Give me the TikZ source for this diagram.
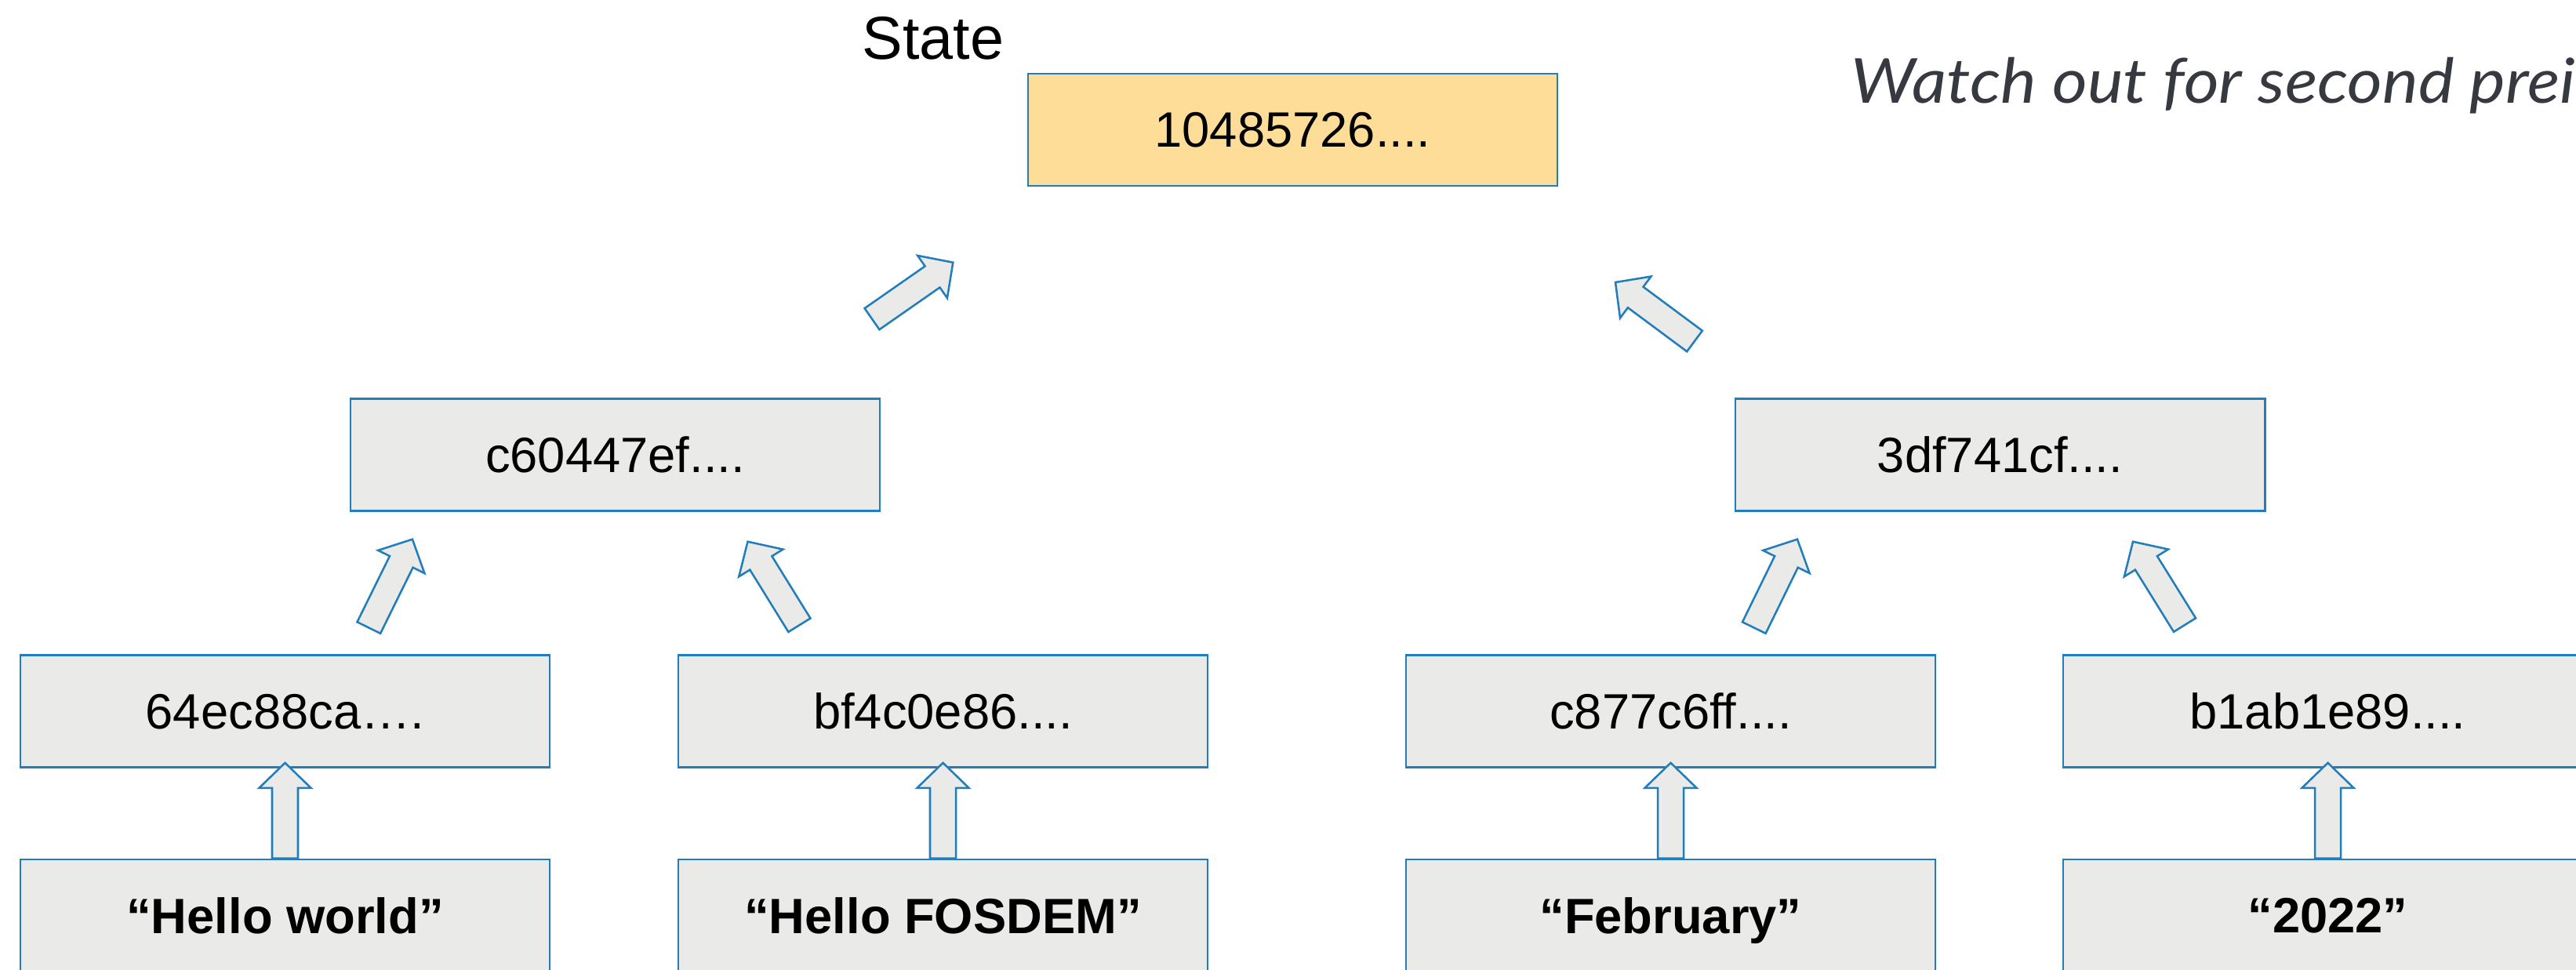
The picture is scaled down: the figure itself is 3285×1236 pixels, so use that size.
\documentclass[tikz,border=0pt]{standalone}
\usepackage{fontspec}
\setmainfont{Liberation Sans}
\newfontfamily\notefont[FakeStretch=1.09]{Lato}
\usetikzlibrary{calc}

\definecolor{boxfill}{RGB}{234,234,232}
\definecolor{boxline}{RGB}{33,125,187}
\definecolor{statefill}{RGB}{254,221,152}
\definecolor{notegray}{RGB}{54,58,64}

% block arrow from tail centre #1 to tip #2
\newcommand\blockarrow[2]{%
  \coordinate (hb) at ($(#2)!0.32cm!(#1)$);
  \draw[arrowbody]
    ($(#1)!0.165cm!90:(#2)$) -- ($(hb)!0.165cm!90:(#2)$) --
    ($(hb)!0.33cm!90:(#2)$) -- (#2) --
    ($(hb)!0.33cm!-90:(#2)$) -- ($(hb)!0.165cm!-90:(#2)$) --
    ($(#1)!0.165cm!-90:(#2)$) -- cycle;
}

\begin{document}
\begin{tikzpicture}[x=0.01cm, y=-0.01cm,
  hashbox/.style={draw=boxline, fill=boxfill, line width=0.72pt,
    minimum width=6.75cm, minimum height=1.43cm, inner sep=0pt,
    text depth=0pt, font=\fontsize{18}{21}\selectfont},
  statebox/.style={hashbox, fill=statefill},
  leafbox/.style={hashbox, font=\fontsize{18}{21}\selectfont\bfseries},
  arrowbody/.style={draw=boxline, fill=boxfill, line width=0.72pt, line join=miter}]

\useasboundingbox (0,0) rectangle (3285,1236);
\clip (0,0) rectangle (3285,1236);

% captions
\node[anchor=base, inner sep=0pt, font=\fontsize{22}{26}\selectfont] (title) at (1190,75) {State};
\node[anchor=base west, inner sep=0pt, text=notegray,
      font=\notefont\itshape\fontsize{22.5}{27}\selectfont] (note) at (2360,131.7)
      {Watch out for second prei};

% root
\node[statebox] (root) at (1648.5,165.5) {10485726....};

% inner hashes
\node[hashbox] (hl) at (784.5,580) {c60447ef....};
\node[hashbox] (hr) at (2550.5,580) {3df741cf....};

% leaf hashes
\node[hashbox] (h1) at (363.5,907) {64ec88ca\dots.};
\node[hashbox] (h2) at (1202.5,907) {bf4c0e86....};
\node[hashbox] (h3) at (2130.5,907) {c877c6ff....};
\node[hashbox] (h4) at (2968.5,907) {b1ab1e89....};

% raw values
\node[leafbox] (v1) at (363.5,1167.5) {“Hello world”};
\node[leafbox] (v2) at (1202.5,1167.5) {“Hello FOSDEM”};
\node[leafbox] (v3) at (2130.5,1167.5) {“February”};
\node[leafbox] (v4) at (2968.5,1167.5) {“2022”};

% arrow end points
\coordinate (t1) at (1112,406.7);   \coordinate (p1) at (1215.3,334.7);
\coordinate (t2) at (2161,435);     \coordinate (p2) at (2060,360);
\coordinate (tA) at (470.3,800.5);  \coordinate (pA) at (525.9,687.7);
\coordinate (tB) at (1019.4,797.2); \coordinate (pB) at (953.5,690.7);
\coordinate (tC) at (2236.8,800.5); \coordinate (pC) at (2292,687.7);
\coordinate (tD) at (2786,797);     \coordinate (pD) at (2720,690.7);

% inner hashes -> root
\blockarrow{t1}{p1}
\blockarrow{t2}{p2}

% leaf hashes -> inner hashes
\blockarrow{tA}{pA}
\blockarrow{tB}{pB}
\blockarrow{tC}{pC}
\blockarrow{tD}{pD}

% values -> leaf hashes
\foreach \v/\h in {v1/h1, v2/h2, v3/h3, v4/h4} {
  \coordinate (vt) at (\v.north);
  \coordinate (ht) at ($(\h.south)+(0,-7)$);
  \blockarrow{vt}{ht}
}
\end{tikzpicture}
\end{document}
